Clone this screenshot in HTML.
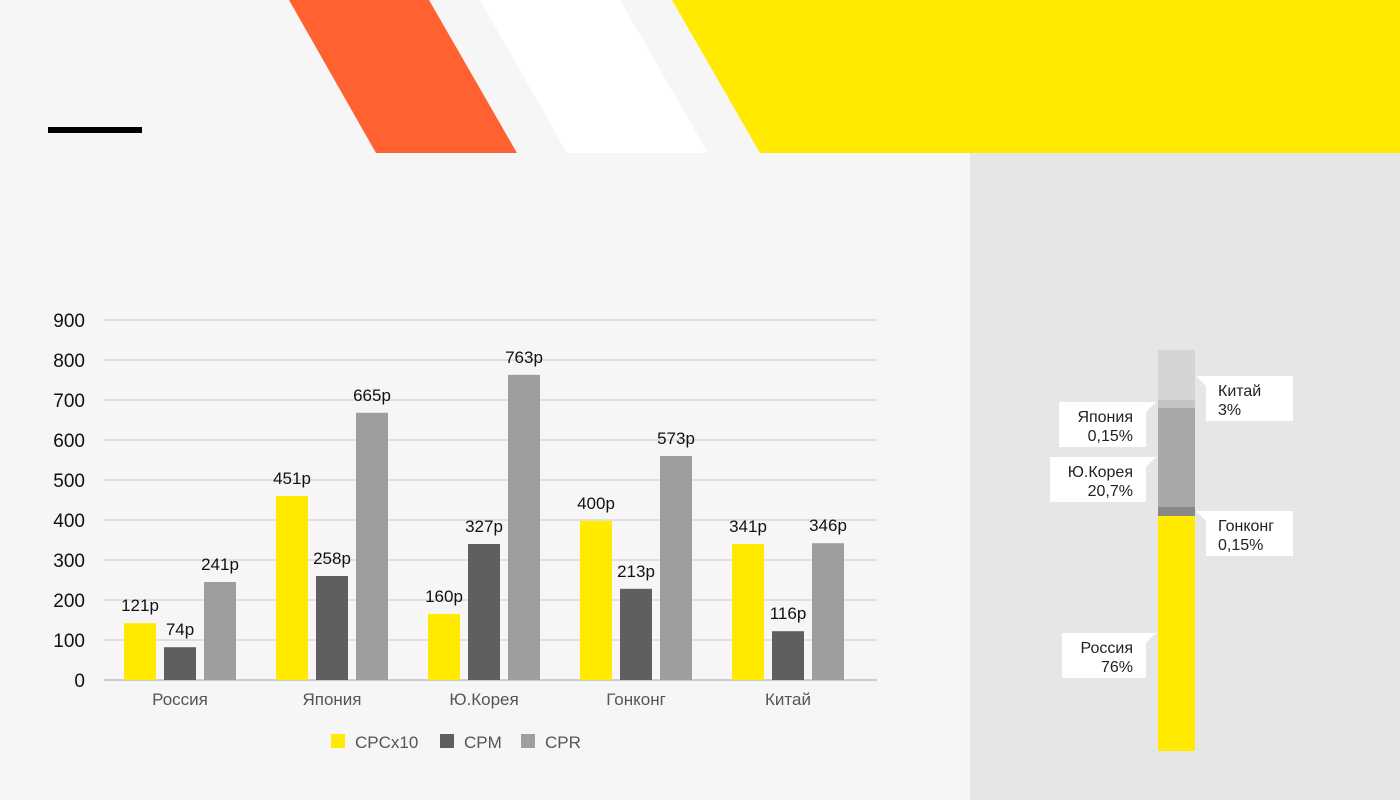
<!DOCTYPE html>
<html><head><meta charset="utf-8"><style>
body{margin:0;width:1400px;height:800px;background:#f6f6f6;font-family:"Liberation Sans",sans-serif;overflow:hidden}
svg{display:block}
</style></head><body>
<svg width="1400" height="800">
<polygon points="289,0 429,0 517,153 376,153" fill="#ff6131"/>
<polygon points="480,0 620,0 708,153 567,153" fill="#ffffff"/>
<polygon points="672,0 1400,0 1400,153 760,153" fill="#ffea00"/>
<rect x="48" y="127" width="94" height="6" fill="#000"/>
<rect x="970" y="153" width="430" height="647" fill="#e6e6e6"/>
<g id="chart"></g>
<g id="side"></g>
</svg>
<script>
const categories=["Россия","Япония","Ю.Корея","Гонконг","Китай"];
const seriesNames=["CPCx10","CPM","CPR"];
const cpc=[142,460,165,398,340];
const cpm=[82,260,340,228,122];
const cpr=[245,668,763,560,342];
const cpcLabels=["121р","451р","160р","400р","341р"];
const cpmLabels=["74р","258р","327р","213р","116р"];
const cprLabels=["241р","665р","763р","573р","346р"];
const yTicks=[0,100,200,300,400,500,600,700,800,900];
const shareNames=["Россия","Гонконг","Ю.Корея","Япония","Китай"];
const shareValues=[235,9,99,8,50];
const shareLabels=["76%","0,15%","20,7%","0,15%","3%"];

const NS="http://www.w3.org/2000/svg";
function mk(p,t,a,txt){const e=document.createElementNS(NS,t);for(const k in a)e.setAttribute(k,a[k]);if(txt!==undefined)e.textContent=txt;p.appendChild(e);return e;}
const g=document.getElementById('chart');
const y=v=>680-v*0.4;
const xc=i=>180+i*152;
yTicks.forEach(t=>{
 const l=mk(g,'line',{x1:104,x2:877,y1:y(t),y2:y(t),stroke:t===0?'#cccccc':'#e0e0e0','stroke-width':2});
 
 
 const tx=mk(g,'text',{x:85,y:y(t)+7,'text-anchor':'end','font-size':19,fill:'#111'},t);
 
 
});
const series=[cpc,cpm,cpr],labs=[cpcLabels,cpmLabels,cprLabels],cols=['#ffea00','#5f5f5f','#9e9e9e'];
categories.forEach((c,i)=>{
 series.forEach((s,j)=>{
  const x=xc(i)-56+j*40;
  const r=mk(g,'rect',{x:x,y:y(s[i]),width:32,height:s[i]*0.4,fill:cols[j]});
  
  
  const t=mk(g,'text',{x:x+16,y:y(s[i])-12,'text-anchor':'middle','font-size':17,fill:'#111'},labs[j][i]);
  
  
 });
 const t=mk(g,'text',{x:xc(i),y:705,'text-anchor':'middle','font-size':17,fill:'#555'},c);
 
 
});
const lx=[331,440,521];
seriesNames.forEach((n,j)=>{
 const r=mk(g,'rect',{x:lx[j],y:734,width:14,height:14,fill:cols[j]});
 
 
 const t=mk(g,'text',{x:lx[j]+24,y:748,'font-size':17,fill:'#555'},n);
 
 
});
const s=document.getElementById('side');
const scols=['#ffea00','#888888','#a8a8a8','#c4c4c4','#d4d4d4'];
const side=[1,0,1,1,0];
const boxes=[[1062,633,84],[1206,511,87],[1050,457,96],[1059,402,87],[1206,376,87]];
let cur=751;
shareValues.forEach((v,i)=>{
 const r=mk(s,'rect',{x:1158,y:cur-v,width:37,height:v,fill:scols[i]});
 
 
 cur-=v;
});
shareNames.forEach((n,i)=>{
 const [bx,by,bw]=boxes[i];
 const gg=mk(s,'g',{});
 
 
 mk(gg,'rect',{x:bx,y:by,width:bw,height:45,fill:'#fff'});
 if(side[i]===1){
  mk(gg,'polygon',{points:`${bx+bw},${by} ${bx+bw+10},${by} ${bx+bw},${by+10}`,fill:'#fff'});
  mk(gg,'text',{x:bx+bw-13,y:by+20,'text-anchor':'end','font-size':16,fill:'#222'},n);
  mk(gg,'text',{x:bx+bw-13,y:by+39,'text-anchor':'end','font-size':16,fill:'#222'},shareLabels[i]);
 } else {
  mk(gg,'polygon',{points:`${bx},${by} ${bx-10},${by} ${bx},${by+10}`,fill:'#fff'});
  mk(gg,'text',{x:bx+12,y:by+20,'font-size':16,fill:'#222'},n);
  mk(gg,'text',{x:bx+12,y:by+39,'font-size':16,fill:'#222'},shareLabels[i]);
 }
});
</script>
</body></html>
